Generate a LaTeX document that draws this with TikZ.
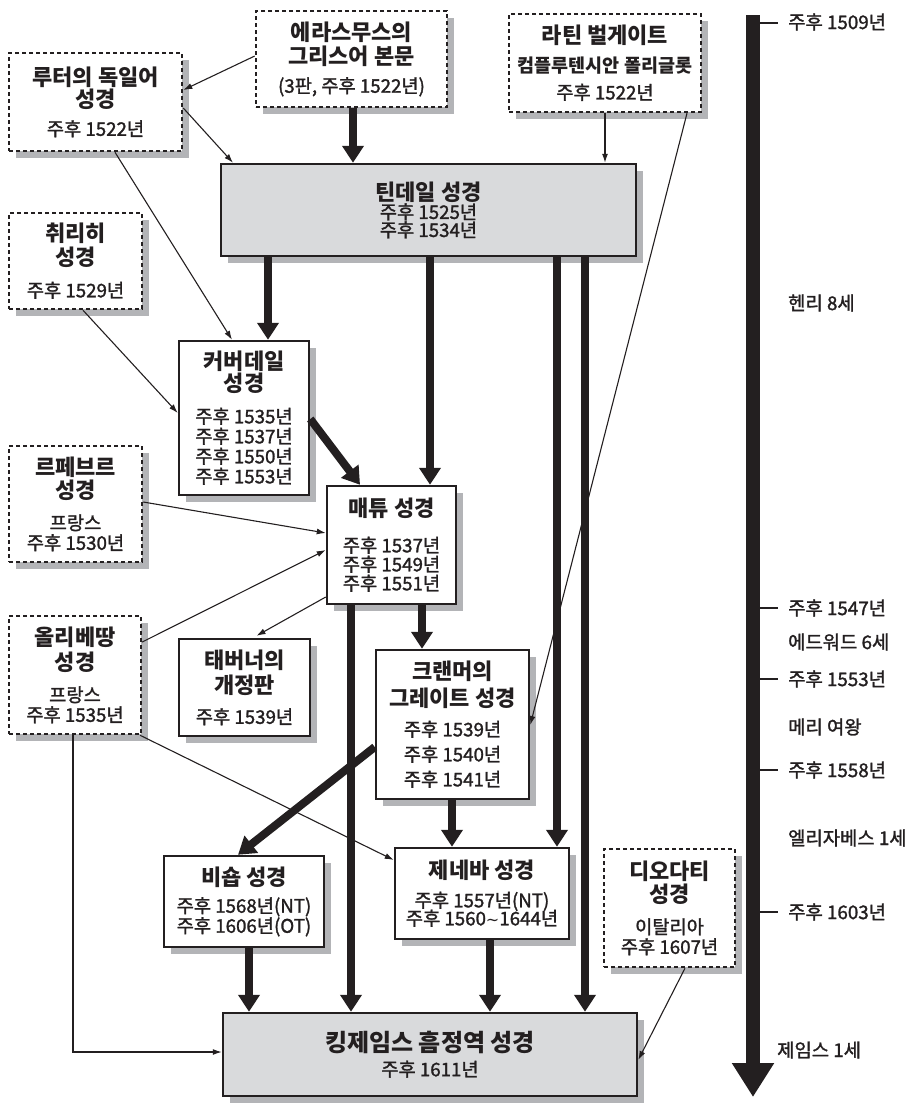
\documentclass[tikz,border=0pt]{standalone}
\usepackage{fontspec}
\setmainfont{Noto Sans CJK KR}
\newfontfamily\medfont{Noto Sans CJK KR}[FakeBold=1.5]
\newfontfamily\symfont{DejaVu Sans}
\usetikzlibrary{arrows.meta,shadows}
\definecolor{ink}{HTML}{231F20}
\definecolor{boxgray}{HTML}{D9DADC}
\definecolor{shade}{HTML}{B3B4B7}
\newcommand{\Ttl}{\normalfont\bfseries\fontsize{22}{0}\selectfont}
\newcommand{\KjvTtl}{\normalfont\bfseries\fontsize{24}{0}\selectfont}
\newcommand{\SubTtl}{\normalfont\bfseries\fontsize{18.5}{0}\selectfont}
\newcommand{\BoxFont}{\medfont\fontsize{18.7}{0}\selectfont\lineskiplimit=-100pt\relax\lineskip=0pt\relax}
\tikzset{
  base/.style={draw=ink, line width=2.5pt, align=center, inner sep=0pt, text=ink,
     font=\BoxFont,
     drop shadow={shadow xshift=7pt, shadow yshift=-7pt, fill=shade, draw=none, opacity=1}},
  solidbox/.style={base, fill=white},
  dashbox/.style={base, fill=white, dash pattern=on 4pt off 3pt},
  graybox/.style={base, fill=boxgray},
  thickarrow/.style={draw=ink, line width=8pt, -{Triangle[width=21pt,length=17pt]}},
  thinarrow/.style={draw=ink, line width=1.1pt, -{Latex[width=6pt,length=9pt]}},
  tick/.style={draw=ink, line width=1.2pt},
  timeline/.style={draw=ink, line width=14pt, -{Triangle[width=40pt,length=34pt]}},
  tl/.style={anchor=west, text=ink, font=\medfont\fontsize{18.8}{21}\selectfont, inner sep=0pt},
}
\begin{document}
\begin{tikzpicture}[x=1pt,y=-1pt]
\useasboundingbox (0,0) rectangle (915,1104);

% boxes
\node[dashbox, minimum width=173pt, minimum height=98pt] (luther) at (95.5,102)
  {{\Ttl 루터의 독일어}\\[22pt]{\Ttl 성경}\\[28.5pt]주후 1522년};
\node[dashbox, minimum width=191pt, minimum height=96pt] (erasmus) at (351.5,59)
  {{\Ttl 에라스무스의}\\[24pt]{\Ttl 그리스어 본문}\\[28.5pt](3판, 주후 1522년)};
\node[dashbox, minimum width=192pt, minimum height=98pt] (vulgate) at (605,63)
  {{\Ttl 라틴 벌게이트}\\[28.7pt]{\SubTtl 컴플루텐시안 폴리글롯}\\[27pt]주후 1522년};
\node[graybox, minimum width=415pt, minimum height=92pt] (tyndale) at (428.5,210)
  {{\Ttl 틴데일 성경}\\[18.8pt]주후 1525년\\[18pt]주후 1534년};
\node[dashbox, minimum width=133pt, minimum height=96pt] (zurich) at (75.5,261)
  {{\Ttl 취리히}\\[24pt]{\Ttl 성경}\\[31.5pt]주후 1529년};
\node[solidbox, minimum width=130pt, minimum height=154pt] (coverdale) at (244,418)
  {{\Ttl 커버데일}\\[22pt]{\Ttl 성경}\\[31.5pt]주후 1535년\\[20pt]주후 1537년\\[20pt]주후 1550년\\[20pt]주후 1553년};
\node[dashbox, minimum width=133pt, minimum height=116pt] (lefevre) at (75.5,504)
  {{\Ttl 르페브르}\\[23pt]{\Ttl 성경}\\[31.5pt]프랑스\\[20pt]주후 1530년};
\node[solidbox, minimum width=129pt, minimum height=118pt] (matthew) at (391.5,545)
  {{\Ttl 매튜 성경}\\[35.5pt]주후 1537년\\[19pt]주후 1549년\\[19pt]주후 1551년};
\node[dashbox, minimum width=132pt, minimum height=118pt] (olivetan) at (75,675)
  {{\Ttl 올리베땅}\\[25pt]{\Ttl 성경}\\[31.5pt]프랑스\\[20pt]주후 1535년};
\node[solidbox, minimum width=131pt, minimum height=97pt] (taverner) at (244.5,687.5)
  {{\Ttl 태버너의}\\[25pt]{\Ttl 개정판}\\[30.5pt]주후 1539년};
\node[solidbox, minimum width=153pt, minimum height=149pt] (great) at (452.5,724.5)
  {{\Ttl 크랜머의}\\[27pt]{\Ttl 그레이트 성경}\\[29.5pt]주후 1539년\\[25pt]주후 1540년\\[25pt]주후 1541년};
\node[solidbox, minimum width=160pt, minimum height=91pt] (bishops) at (244,901.5)
  {{\Ttl 비숍 성경}\\[27.5pt]주후 1568년(NT)\\[20pt]주후 1606년(OT)};
\node[solidbox, minimum width=174pt, minimum height=91pt] (geneva) at (482,893.5)
  {{\Ttl 제네바 성경}\\[28.5pt]주후 1557년(NT)\\[18pt]주후 1560{\symfont\fontsize{16}{0}\selectfont ∼}1644년};
\node[dashbox, minimum width=131pt, minimum height=118pt] (diodati) at (669.5,908)
  {{\Ttl 디오다티}\\[23pt]{\Ttl 성경}\\[31.5pt]이탈리아\\[20pt]주후 1607년};
\node[graybox, minimum width=414pt, minimum height=83pt] (kjv) at (430,1054.5)
  {{\KjvTtl 킹제임스 흠정역 성경}\\[24.6pt]주후 1611년};

% connectors
\draw[thinarrow] (erasmus.west |- 0,56) -- (luther.east |- 0,90);
\draw[thinarrow] (luther.east |- 0,108) -- (tyndale.north -| 233,0);
\draw[thickarrow] (erasmus.south -| 353,0) -- (tyndale.north -| 353,0);
\draw[thinarrow] (vulgate.south -| 605,0) -- (tyndale.north -| 605,0);
\draw[thinarrow] (vulgate.south -| 687,0) -- (great.east |- 0,725);
\draw[thinarrow] (luther.south -| 115,0) -- (coverdale.north -| 232,0);
\draw[thinarrow] (zurich.south -| 83,0) -- (coverdale.west |- 0,413);
\draw[thickarrow] (tyndale.south -| 268,0) -- (coverdale.north -| 268,0);
\draw[thickarrow] (tyndale.south -| 430,0) -- (matthew.north -| 430,0);
\draw[thickarrow] (tyndale.south -| 557,0) -- (geneva.north -| 557,0);
\draw[thickarrow] (tyndale.south -| 585,0) -- (kjv.north -| 585,0);
\draw[thickarrow] (coverdale.east |- 0,419) -- (matthew.north -| 360,0);
\draw[thinarrow] (lefevre.east |- 0,502) -- (matthew.west |- 0,533);
\draw[thinarrow] (olivetan.east |- 0,642) -- (matthew.west |- 0,550);
\draw[thinarrow, shorten >=4pt] (matthew.west |- 0,597) -- (taverner.north -| 253,0);
\draw[thickarrow] (matthew.south -| 422,0) -- (great.north -| 422,0);
\draw[thickarrow] (matthew.south -| 351,0) -- (kjv.north -| 351,0);
\draw[thickarrow] (great.west |- 0,747) -- (bishops.north -| 238,0);
\draw[thickarrow] (great.south -| 452,0) -- (geneva.north -| 452,0);
\draw[thinarrow] (olivetan.south -| 140,0) -- (geneva.west |- 0,860);
\draw[thinarrow] (olivetan.south -| 73,0) |- (kjv.west |- 0,1052);
\draw[thickarrow] (bishops.south -| 249,0) -- (kjv.north -| 249,0);
\draw[thickarrow] (geneva.south -| 490,0) -- (kjv.north -| 490,0);
\draw[thinarrow] (diodati.south -| 685,0) -- (kjv.east |- 0,1060);

% timeline
\coordinate (tltop) at (753,15);
\coordinate (tlend) at (753,1097);
\draw[timeline] (tltop) -- (tlend);
\draw[tick] (760,23) -- (778,23);
\draw[tick] (760,608) -- (778,608);
\draw[tick] (760,679) -- (778,679);
\draw[tick] (760,770) -- (778,770);
\draw[tick] (760,912) -- (778,912);
\node[tl] (y1509) at (788,22) {주후 1509년};
\node[tl] (henry) at (788,303) {헨리 8세};
\node[tl] (y1547) at (788,608) {주후 1547년};
\node[tl] (edward) at (788,642) {에드워드 6세};
\node[tl] (y1553) at (788,679) {주후 1553년};
\node[tl] (mary) at (788,727) {메리 여왕};
\node[tl] (y1558) at (788,770) {주후 1558년};
\node[tl] (eliz) at (788,838) {엘리자베스 1세};
\node[tl] (y1603) at (788,912) {주후 1603년};
\node[tl] (james) at (777,1050) {제임스 1세};
\end{tikzpicture}
\end{document}
